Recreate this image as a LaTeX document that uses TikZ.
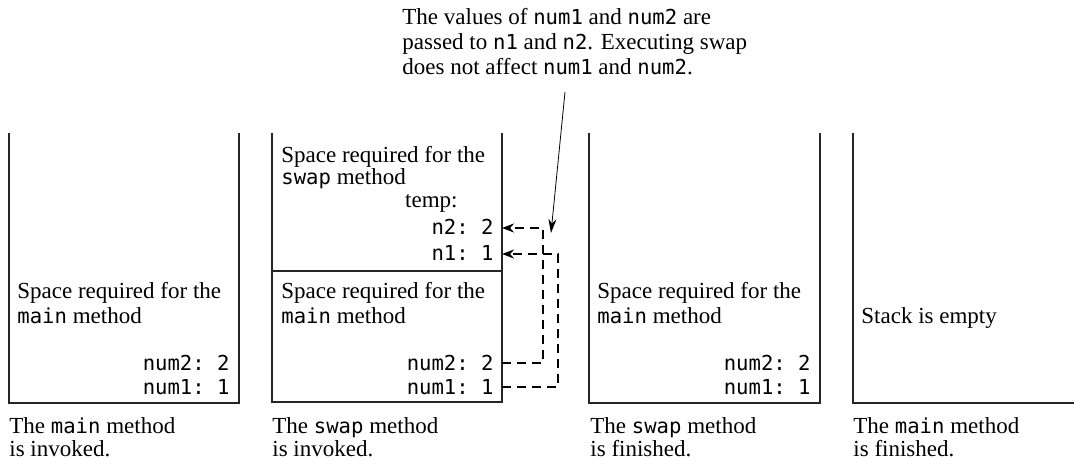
\documentclass[tikz,border=0pt]{standalone}
\usepackage{fontspec}
\setmainfont{Liberation Serif}
\setmonofont{DejaVu Sans Mono}
\usetikzlibrary{arrows.meta}
\newcommand\cd[1]{{\fontsize{10.3pt}{12pt}\ttfamily #1}}
\begin{document}
\begin{tikzpicture}[x=0.5pt,y=-0.5pt,
  every node/.style={inner sep=0pt,font=\fontsize{11.5pt}{12pt}\selectfont},
  txt/.style={anchor=base west},
  val/.style={anchor=base east,font=\fontsize{10.3pt}{12pt}\ttfamily},
  frame/.style={line width=0.7pt,draw=black!85},
  link/.style={line width=1.1pt,dash pattern=on 4.5pt off 3pt},
  ptr/.style={line width=0.4pt}]
\useasboundingbox (0,0) rectangle (1074,459);
% note
\node[txt] (note1) at (402,25) {The values of \cd{num1} and \cd{num2} are};
\node[txt] (note2) at (402,50) {passed to \cd{n1} and \cd{n2}. Executing swap};
\node[txt] (note3) at (402,75) {does not affect \cd{num1} and \cd{num2}.};
% panel 1
\draw[frame] (9,133) -- (9,403) -- (239,403) -- (239,133);
\node[txt] (a1) at (17,299) {Space required for the};
\node[txt] (a2) at (17,323) {\cd{main} method};
\node[val] (a3) at (230,370) {num2: 2};
\node[val] (a4) at (230,394) {num1: 1};
\node[txt] (a5) at (9,433) {The \cd{main} method};
\node[txt] (a6) at (9,456) {is invoked.};
% panel 2
\draw[frame] (272,133) -- (272,402) -- (502,402) -- (502,133);
\draw[frame] (272,271) -- (502,271);
\node[txt] (b1) at (281,163) {Space required for the};
\node[txt] (b2) at (281,185) {\cd{swap} method};
\node[anchor=base east] (b3) at (458,208) {temp:};
\node[val] (b4) at (494,235) {n2: 2};
\node[val] (b5) at (494,261) {n1: 1};
\node[txt] (b6) at (281,299) {Space required for the};
\node[txt] (b7) at (281,323) {\cd{main} method};
\node[val] (b8) at (494,370) {num2: 2};
\node[val] (b9) at (494,394) {num1: 1};
\node[txt] (b10) at (272,433) {The \cd{swap} method};
\node[txt] (b11) at (272,456) {is invoked.};
% panel 3
\draw[frame] (589,133) -- (589,403) -- (820,403) -- (820,133);
\node[txt] (c1) at (597,299) {Space required for the};
\node[txt] (c2) at (597,323) {\cd{main} method};
\node[val] (c3) at (811,370) {num2: 2};
\node[val] (c4) at (811,394) {num1: 1};
\node[txt] (c5) at (590,433) {The \cd{swap} method};
\node[txt] (c6) at (590,456) {is finished.};
% panel 4
\draw[frame] (853,133) -- (853,403) -- (1074,403);
\node[txt] (d1) at (861,323) {Stack is empty};
\node[txt] (d5) at (853,433) {The \cd{main} method};
\node[txt] (d6) at (853,456) {is finished.};
% connectors
\coordinate (en2) at (502,228);
\coordinate (en1) at (502,254);
\coordinate (enum2) at (502,363);
\coordinate (enum1) at (502,387);
\coordinate (k2) at (543,228);
\coordinate (k1) at (558,254);
\draw[link,-{Stealth[length=6pt,width=4.5pt]}] (enum2) -| (k2) -- (en2);
\draw[link,-{Stealth[length=6pt,width=4.5pt]}] (enum1) -| (k1) -- (en1);
\coordinate (pstart) at (565,92);
\coordinate (ptip) at (551,233);
\draw[ptr,-{Stealth[length=7pt,width=4pt]}] (pstart) -- (ptip);
\end{tikzpicture}
\end{document}
